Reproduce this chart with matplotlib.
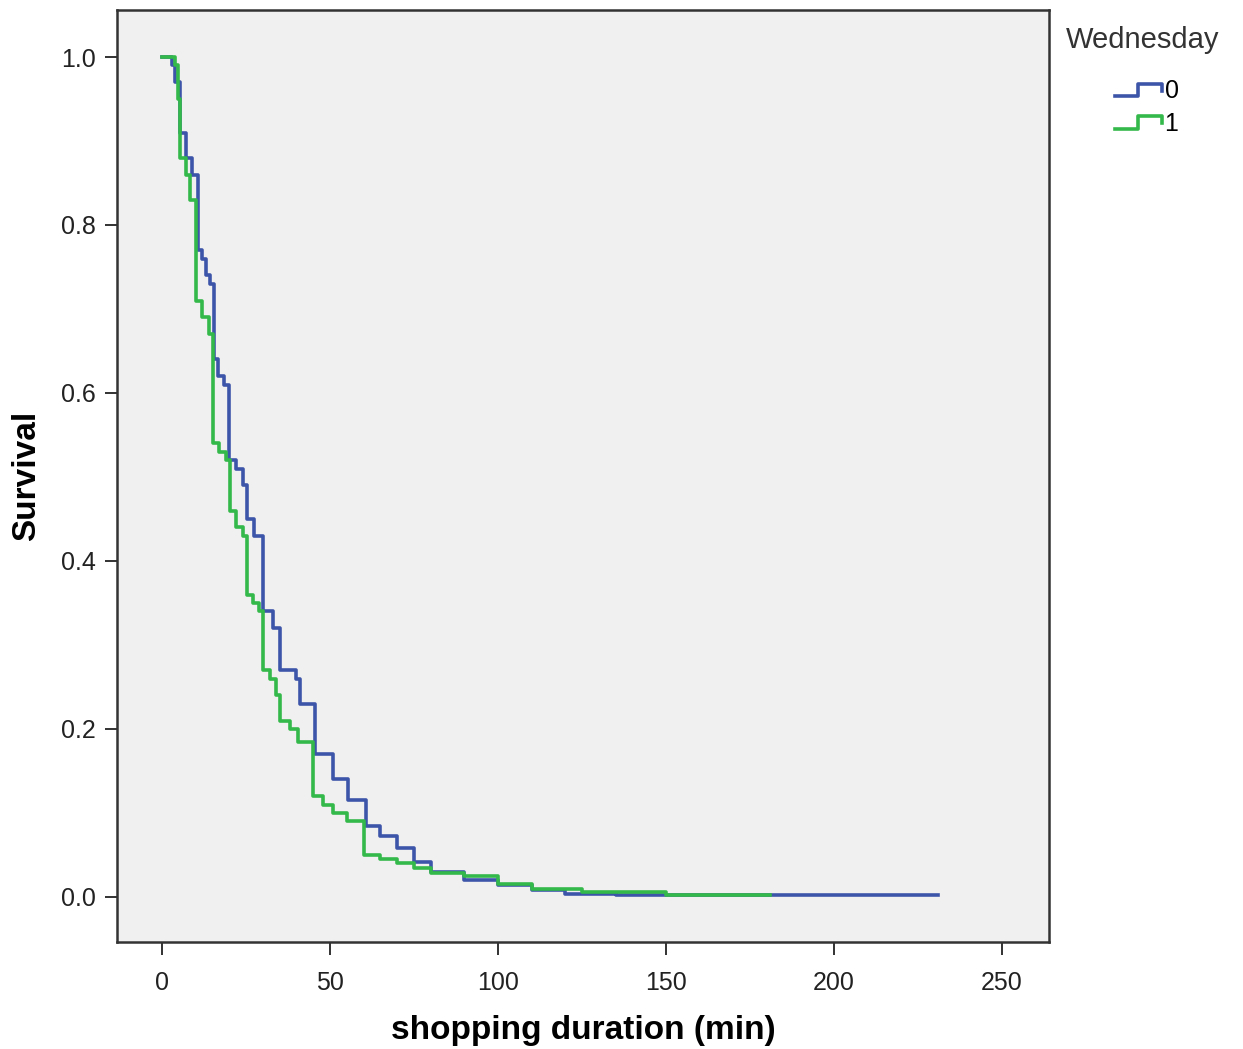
import numpy as np
import matplotlib
matplotlib.use("Agg")
import matplotlib.pyplot as plt
from matplotlib.lines import Line2D
from matplotlib.legend_handler import HandlerLine2D

plt.rcParams['font.family'] = ['Liberation Sans', 'DejaVu Sans']

# Kaplan-Meier survival estimates (time in min, survival)
t_wed0 = [0, 1, 3, 4, 5.4, 7, 9, 10.7, 12, 13, 14.3, 15.5, 16.7, 18.5, 20, 22, 24, 25.3,
          27.5, 30, 33, 35, 40, 41, 45.5, 51, 55.4, 60.7, 65, 70, 75, 80, 90, 100,
          110, 120, 135, 231]
s_wed0 = [1.0, 1.0, 0.99, 0.97, 0.91, 0.88, 0.86, 0.77, 0.76, 0.74, 0.73, 0.64, 0.62, 0.61,
          0.52, 0.51, 0.49, 0.45, 0.43, 0.34, 0.32, 0.27, 0.26, 0.23, 0.17, 0.14, 0.115,
          0.085, 0.073, 0.058, 0.042, 0.03, 0.02, 0.014, 0.008, 0.004, 0.002, 0.002]

t_wed1 = [0, 1, 4, 4.8, 5.4, 7, 8.3, 10, 12, 14, 15.2, 17, 19, 20.2, 22, 24, 25.3, 27,
          29, 30, 32, 34, 35, 38, 40.5, 45, 48, 51, 55, 60, 65, 70, 75, 80, 90, 100,
          110, 125, 150, 181]
s_wed1 = [1.0, 1.0, 0.99, 0.95, 0.88, 0.86, 0.83, 0.71, 0.69, 0.67, 0.54, 0.53, 0.52, 0.46,
          0.44, 0.43, 0.36, 0.35, 0.34, 0.27, 0.26, 0.24, 0.21, 0.2, 0.185, 0.12, 0.11,
          0.1, 0.09, 0.05, 0.045, 0.04, 0.035, 0.028, 0.025, 0.015, 0.01, 0.006, 0.002, 0.002]

groups = ["0", "1"]
colors = ["#3D55A8", "#33B84A"]


class StepHandler(HandlerLine2D):
    # legend glyph shaped like a small step
    def create_artists(self, legend, orig_handle, xdescent, ydescent, width, height,
                       fontsize, trans):
        x0, x1 = -xdescent, -xdescent + width
        y0, y1 = -ydescent + 0.15 * height, -ydescent + 0.85 * height
        xs = [x0, x0 + 0.5 * width, x0 + 0.5 * width, x1, x1]
        ys = [y0, y0, y1, y1, y0 + 0.3 * height]
        line = Line2D(xs, ys, color=orig_handle.get_color(), lw=orig_handle.get_linewidth())
        line.set_transform(trans)
        return [line]


fig = plt.figure(figsize=(12.43, 10.49), dpi=100)
ax = fig.add_axes([0.0941, 0.102, 0.7499, 0.8885])
ax.set_facecolor("#F0F0F0")

handles = []
for t, s, g, c in zip([t_wed0, t_wed1], [s_wed0, s_wed1], groups, colors):
    h, = ax.step(t, s, where="post", color=c, lw=2.6, label=g)
    handles.append(h)

ax.set_xlim(-13.4, 264)
ax.set_ylim(-0.0536, 1.056)
ax.set_xticks([0, 50, 100, 150, 200, 250])
ax.set_yticks([0.0, 0.2, 0.4, 0.6, 0.8, 1.0])
ax.set_yticklabels(["0.0", "0.2", "0.4", "0.6", "0.8", "1.0"])
ax.tick_params(direction="out", length=9, width=1.3, labelsize=18, colors="#222222", pad=6)
ax.tick_params(axis="x", pad=12)
for sp in ax.spines.values():
    sp.set_linewidth(1.8)
    sp.set_color("#333333")

ax.set_xlabel("shopping duration (min)", fontsize=24, fontweight="bold", labelpad=14)
ax.set_ylabel("Survival", fontsize=24, fontweight="bold", labelpad=14)

fig.text(1066 / 1243, 1 - 40 / 1049, "Wednesday", fontsize=21, color="#333333",
         ha="left", va="center")
leg = fig.legend(handles=handles, labels=groups,
                 loc="upper left", bbox_to_anchor=(1092 / 1243, 1 - 57 / 1049), frameon=False,
                 fontsize=18, handlelength=1.9, handletextpad=0.1,
                 labelspacing=0.35, handler_map={Line2D: StepHandler()})

fig.savefig("out.png", dpi=100, facecolor="white")
